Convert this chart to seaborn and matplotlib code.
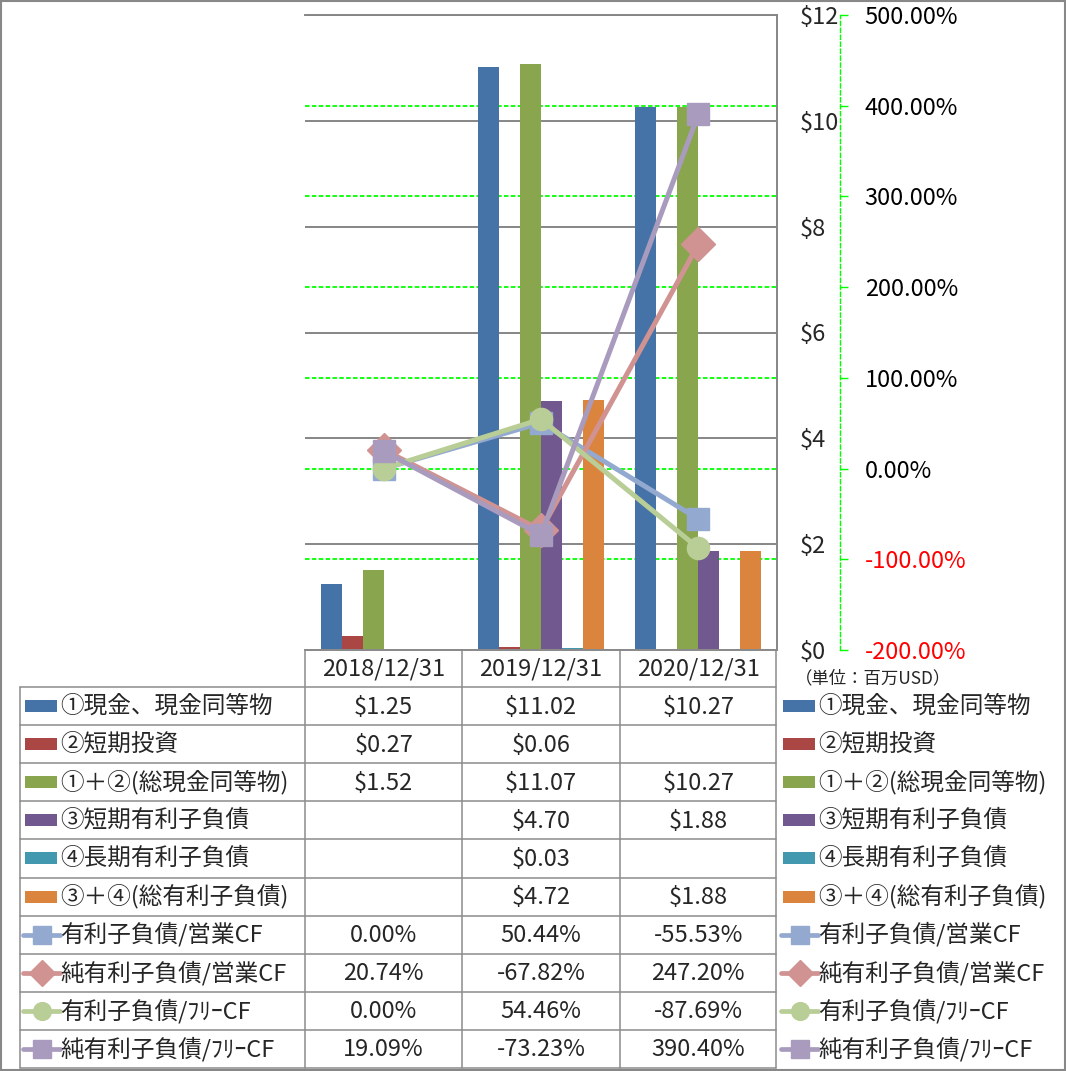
import numpy as np
import pandas as pd
import matplotlib
matplotlib.use("Agg")
import matplotlib.pyplot as plt
import seaborn as sns
from matplotlib.patches import Rectangle

# categories
dates = ['2018/12/31', '2019/12/31', '2020/12/31']

# bar series (million USD)
bar_names = ['①現金、現金同等物', '②短期投資', '①＋②(総現金同等物)',
             '③短期有利子負債', '④長期有利子負債', '③＋④(総有利子負債)']
cash = [1.25, 11.02, 10.27]
short_inv = [0.27, 0.06, None]
total_cash = [1.52, 11.07, 10.27]
short_debt = [None, 4.70, 1.88]
long_debt = [None, 0.03, None]
total_debt = [None, 4.72, 1.88]

# line series (%)
line_names = ['有利子負債/営業CF', '純有利子負債/営業CF',
              '有利子負債/ﾌﾘｰCF', '純有利子負債/ﾌﾘｰCF']
debt_ocf = [0.00, 50.44, -55.53]
net_debt_ocf = [20.74, -67.82, 247.20]
debt_fcf = [0.00, 54.46, -87.69]
net_debt_fcf = [19.09, -73.23, 390.40]

usd_ticks = [0, 2, 4, 6, 8, 10, 12]
pct_ticks = [-200, -100, 0, 100, 200, 300, 400, 500]

bar_colors = ['#4572A7', '#AA4643', '#89A54E', '#71588F', '#4198AF', '#DB843D']
line_colors = ['#93A9CF', '#D09392', '#B9CD96', '#A99BBD']
line_markers = ['s', 'D', 'o', 's']
line_ms = [16, 17, 16, 16]
grid_gray = '#868686'
green = '#00FF00'

sns.set_style("white")
plt.rcParams['font.family'] = ['Noto Sans CJK JP', 'DejaVu Sans']
plt.rcParams['text.parse_math'] = False

bar_values = [cash, short_inv, total_cash, short_debt, long_debt, total_debt]
line_values = [debt_ocf, net_debt_ocf, debt_fcf, net_debt_fcf]

rows = []
for name, vals in zip(bar_names, bar_values):
    for d, v in zip(dates, vals):
        rows.append({'date': d, 'series': name, 'value': v})
bars = pd.DataFrame(rows)
bars['value'] = bars['value'].astype(float).fillna(0)

W, H = 1066, 1071
fig = plt.figure(figsize=(W / 100, H / 100), dpi=100)
L, R, T, B = 305, 777, 15, 650
rect = [L / W, 1 - B / H, (R - L) / W, (B - T) / H]

ax_pct = fig.add_axes(rect, zorder=0)
ax = fig.add_axes(rect, zorder=1)
ax_line = fig.add_axes(rect, zorder=2)
ov = fig.add_axes([0, 0, 1, 1], zorder=3)

FS = 17

# secondary (percent) axis, drawn underneath for its gridlines
ax_pct.set_xlim(-0.5, len(dates) - 0.5)
ax_pct.set_ylim(pct_ticks[0], pct_ticks[-1])
ax_pct.set_xticks([])
for s in ['left', 'top', 'bottom']:
    ax_pct.spines[s].set_visible(False)
ax_pct.spines['right'].set_position(('outward', 63 * 0.72))
ax_pct.spines['right'].set_color(green)
ax_pct.spines['right'].set_linestyle((0, (3, 2)))
ax_pct.spines['right'].set_linewidth(1.0)
ax_pct.yaxis.tick_right()
ax_pct.set_yticks(pct_ticks, labels=[f"{t:.2f}%" for t in pct_ticks])
ax_pct.tick_params(axis='y', direction='out', length=5.8, width=1, color=green,
                   pad=12, labelsize=FS)
for t, lab in zip(pct_ticks, ax_pct.get_yticklabels()):
    lab.set_color('#FF0000' if t < 0 else 'black')
ax_pct.grid(axis='y', color=green, linestyle=(0, (2.5, 1.3)), linewidth=1.3)
ax_pct.set_axisbelow(True)

# primary axis with bars
ax.patch.set_visible(False)
sns.barplot(data=bars, x='date', y='value', hue='series', order=dates,
            hue_order=bar_names, palette=bar_colors, saturation=1, width=0.8,
            errorbar=None, linewidth=0, legend=False, ax=ax)
ax.set_xlabel('')
ax.set_ylabel('')
ax.set_xlim(-0.5, len(dates) - 0.5)
ax.set_ylim(usd_ticks[0], usd_ticks[-1])
ax.yaxis.tick_right()
ax.set_yticks(usd_ticks, labels=[f"${v}" for v in usd_ticks])
ax.tick_params(axis='y', length=0, pad=16.5, labelsize=FS)
ax.tick_params(axis='x', length=0, labelbottom=False)
ax.grid(axis='y', color=grid_gray, linewidth=1.4)
ax.grid(axis='x', visible=False)
ax.set_axisbelow(True)
ax.spines['left'].set_visible(False)
for s in ['right', 'top', 'bottom']:
    ax.spines[s].set_color(grid_gray)
    ax.spines[s].set_linewidth(1.4)

# lines on top
ax_line.patch.set_visible(False)
ax_line.set_xlim(-0.5, len(dates) - 0.5)
ax_line.set_ylim(pct_ticks[0], pct_ticks[-1])
ax_line.axis('off')
xs = np.arange(len(dates))
for vals, c, m, ms in zip(line_values, line_colors, line_markers, line_ms):
    ax_line.plot(xs, vals, color=c, linewidth=3.6, marker=m, markersize=ms,
                 markeredgecolor=c, clip_on=False)

# data table + legends (pixel overlay)
ov.set_xlim(0, W)
ov.set_ylim(H, 0)
ov.axis('off')
tcol = '#8C8C8C'
col_w = (R - L) / len(dates)
hdr_top, row_top, row_h = B, 687, 38.1
n_rows = len(bar_names) + len(line_names)
tab_bot = row_top + n_rows * row_h
ov.plot([L, R - 1], [hdr_top, hdr_top], color=tcol, lw=1.1)
for i in range(n_rows + 1):
    y = row_top + i * row_h
    ov.plot([20, R - 1], [y, y], color=tcol, lw=1.1)
ov.plot([20, 20], [row_top, tab_bot], color=tcol, lw=1.1)
for j in range(len(dates) + 1):
    x = L + j * col_w - (1 if j == len(dates) else 0)
    ov.plot([x, x], [hdr_top, tab_bot], color=tcol, lw=1.1)
for j, d in enumerate(dates):
    ov.text(L + (j + 0.5) * col_w, (hdr_top + row_top) / 2 + 1, d,
            ha='center', va='center', fontsize=FS)

all_names = bar_names + line_names
all_vals = bar_values + line_values


def draw_key(x0, x1, y, i):
    if i < len(bar_names):
        ov.add_patch(Rectangle((x0, y - 6), x1 - x0, 12, color=bar_colors[i], lw=0))
    else:
        k = i - len(bar_names)
        c = line_colors[k]
        ov.plot([x0 - 2, x1 + 3], [y, y], color=c, lw=3.4, solid_capstyle='round')
        ov.plot([(x0 + x1) / 2 + 1], [y], marker=line_markers[k],
                markersize=line_ms[k] * 0.8, color=c)


for i, (name, vals) in enumerate(zip(all_names, all_vals)):
    yc = row_top + (i + 0.5) * row_h
    draw_key(25, 57, yc, i)
    ov.text(60, yc, name, ha='left', va='center', fontsize=FS)
    draw_key(783, 815, yc, i)
    ov.text(818, yc, name, ha='left', va='center', fontsize=FS)
    for j, v in enumerate(vals):
        if v is None:
            continue
        s = f"${v:.2f}" if i < len(bar_names) else f"{v:.2f}%"
        ov.text(L + (j + 0.5) * col_w, yc + 1, s, ha='center', va='center', fontsize=FS)

ov.text(795, 678, '（単位：百万USD）', ha='left', va='center', fontsize=12.5)
ov.add_patch(Rectangle((0.75, 0.75), W - 1.5, H - 1.5, fill=False,
                       edgecolor='#888888', lw=1.5))

fig.savefig('out.png', dpi=100)
